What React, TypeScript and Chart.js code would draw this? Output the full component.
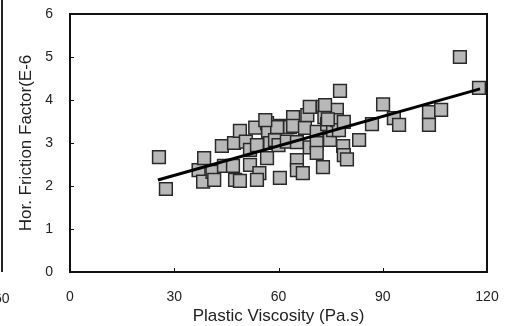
import React, { useEffect, useRef } from 'react';
import { Chart, registerables } from 'chart.js';

Chart.register(...registerables);

const viscosity = [
  25.6, 27.6, 37.0, 38.3, 38.6, 41.0, 41.5, 43.7, 44.3, 46.9,
  47.2, 47.5, 48.9, 48.9, 50.6, 51.8, 51.8, 53.3, 53.8, 54.5,
  53.8, 56.7, 57.0, 56.7, 57.6, 59.0, 60.0, 60.4, 60.4, 62.4,
  63.3, 64.2, 64.2, 65.3, 65.3, 65.3, 67.0, 67.6, 68.3, 69.0,
  69.0, 71.0, 71.0, 71.0, 72.8, 73.2, 72.8, 74.0, 74.8, 75.7,
  76.8, 76.8, 77.7, 77.4, 78.8, 78.6, 78.8, 83.2, 86.9, 90.1,
  93.2, 94.7, 103.3, 103.3, 106.8, 112.2, 117.7, 59.6, 73.4,
  79.7, 74.2, 56.2,
];
const friction = [
  2.67, 1.93, 2.37, 2.10, 2.65, 2.33, 2.14, 2.93, 2.47, 2.47,
  3.00, 2.14, 3.28, 2.12, 3.03, 2.49, 2.84, 3.36, 2.95, 2.30,
  2.14, 3.46, 3.28, 2.65, 3.00, 3.07, 2.95, 3.40, 2.19, 3.03,
  3.37, 3.60, 3.40, 2.60, 3.02, 2.37, 2.30, 3.35, 3.65, 3.84,
  2.90, 3.26, 3.00, 2.77, 3.84, 3.60, 2.44, 3.44, 3.07, 3.30,
  3.77, 3.53, 4.21, 3.30, 3.49, 2.93, 2.72, 3.07, 3.44, 3.90,
  3.58, 3.42, 3.72, 3.42, 3.77, 5.00, 4.28, 3.37, 3.88,
  2.62, 3.55, 3.53,
];
const trendX = [25.3, 118];
const trendY = [2.14, 4.26];
const xTicks = [0, 30, 60, 90, 120];
const yTicks = [0, 1, 2, 3, 4, 5, 6];
const xTitle = 'Plastic Viscosity (Pa.s)';
const yTitle = 'Hor. Friction Factor(E-6';
const sideLabel = '60';

const FONT = "'Liberation Sans', Arial, sans-serif";

const framePlugin = {
  id: 'frame',
  afterDatasetsDraw(chart: any) {
    const { ctx, chartArea: a, scales } = chart;
    ctx.save();
    ctx.strokeStyle = '#111';
    ctx.lineWidth = 1;
    ctx.beginPath();
    yTicks.forEach((v) => {
      const y = Math.round(scales.y.getPixelForValue(v)) + 0.5;
      ctx.moveTo(a.left, y);
      ctx.lineTo(a.left + 4, y);
    });
    xTicks.forEach((v) => {
      const x = Math.round(scales.x.getPixelForValue(v)) + 0.5;
      ctx.moveTo(x, a.bottom);
      ctx.lineTo(x, a.bottom - 4);
    });
    ctx.stroke();
    ctx.lineWidth = 2;
    ctx.strokeRect(a.left, a.top, a.right - a.left, a.bottom - a.top);
    ctx.restore();
  },
};

export default function App() {
  const ref = useRef<HTMLCanvasElement | null>(null);

  useEffect(() => {
    if (!ref.current) return;
    const points = viscosity.map((x, i) => ({ x, y: friction[i] }));
    const trend = trendX.map((x, i) => ({ x, y: trendY[i] }));
    const chart = new Chart(ref.current, {
      type: 'scatter',
      data: {
        datasets: [
          {
            label: 'trend',
            data: trend,
            showLine: true,
            borderColor: '#000',
            borderWidth: 3,
            pointRadius: 0,
            order: 0,
          },
          {
            label: 'data',
            data: points,
            pointStyle: 'rect',
            pointRadius: 9,
            pointHoverRadius: 9,
            backgroundColor: '#b8b8b8',
            borderColor: '#2a2a2a',
            borderWidth: 1.5,
            order: 1,
          },
        ],
      },
      options: {
        responsive: false,
        animation: false,
        devicePixelRatio: 1,
        layout: { padding: { left: 0, right: 19, top: 14, bottom: 0 } },
        plugins: {
          legend: { display: false },
          tooltip: { enabled: false },
        },
        scales: {
          x: {
            type: 'linear',
            min: 0,
            max: 120,
            afterBuildTicks: (s: any) => {
              s.ticks = xTicks.map((v) => ({ value: v }));
            },
            afterFit: (s: any) => {
              s.height = 54;
              s.paddingLeft = 0;
              s.paddingRight = 0;
              s.paddingTop = 0;
              s.paddingBottom = 0;
            },
            grid: { display: false, drawTicks: false },
            border: { display: false },
            ticks: {
              padding: 17,
              color: '#222',
              font: { family: FONT, size: 14 },
            },
            title: {
              display: true,
              text: xTitle,
              color: '#222',
              font: { family: FONT, size: 17, lineHeight: 1 },
              padding: { top: 0, bottom: 1 },
            },
          },
          y: {
            type: 'linear',
            min: 0,
            max: 6,
            afterBuildTicks: (s: any) => {
              s.ticks = yTicks.map((v) => ({ value: v }));
            },
            afterFit: (s: any) => {
              s.width = 70;
              s.paddingLeft = 0;
              s.paddingRight = 0;
              s.paddingTop = 0;
              s.paddingBottom = 0;
            },
            grid: { display: false, drawTicks: false },
            border: { display: false },
            ticks: {
              padding: 17,
              color: '#222',
              font: { family: FONT, size: 14 },
            },
            title: {
              display: true,
              text: yTitle,
              color: '#222',
              font: { family: FONT, size: 17, lineHeight: 1 },
              padding: { top: 18, bottom: 0 },
            },
          },
        },
      },
      plugins: [framePlugin],
    });
    return () => chart.destroy();
  }, []);

  return (
    <div style={{ position: 'absolute', left: 0, top: 0, width: 506, height: 326, overflow: 'hidden', background: '#fff' }}>
      <canvas ref={ref} width={506} height={326} style={{ width: 506, height: 326, display: 'block' }} />
      <div style={{ position: 'absolute', left: 1, top: 0, width: 2, height: 272, background: '#222' }} />
      <span
        style={{
          position: 'absolute',
          left: -6,
          top: 291,
          fontFamily: FONT,
          fontSize: 14,
          lineHeight: '14px',
          color: '#222',
        }}
      >
        {sideLabel}
      </span>
    </div>
  );
}
